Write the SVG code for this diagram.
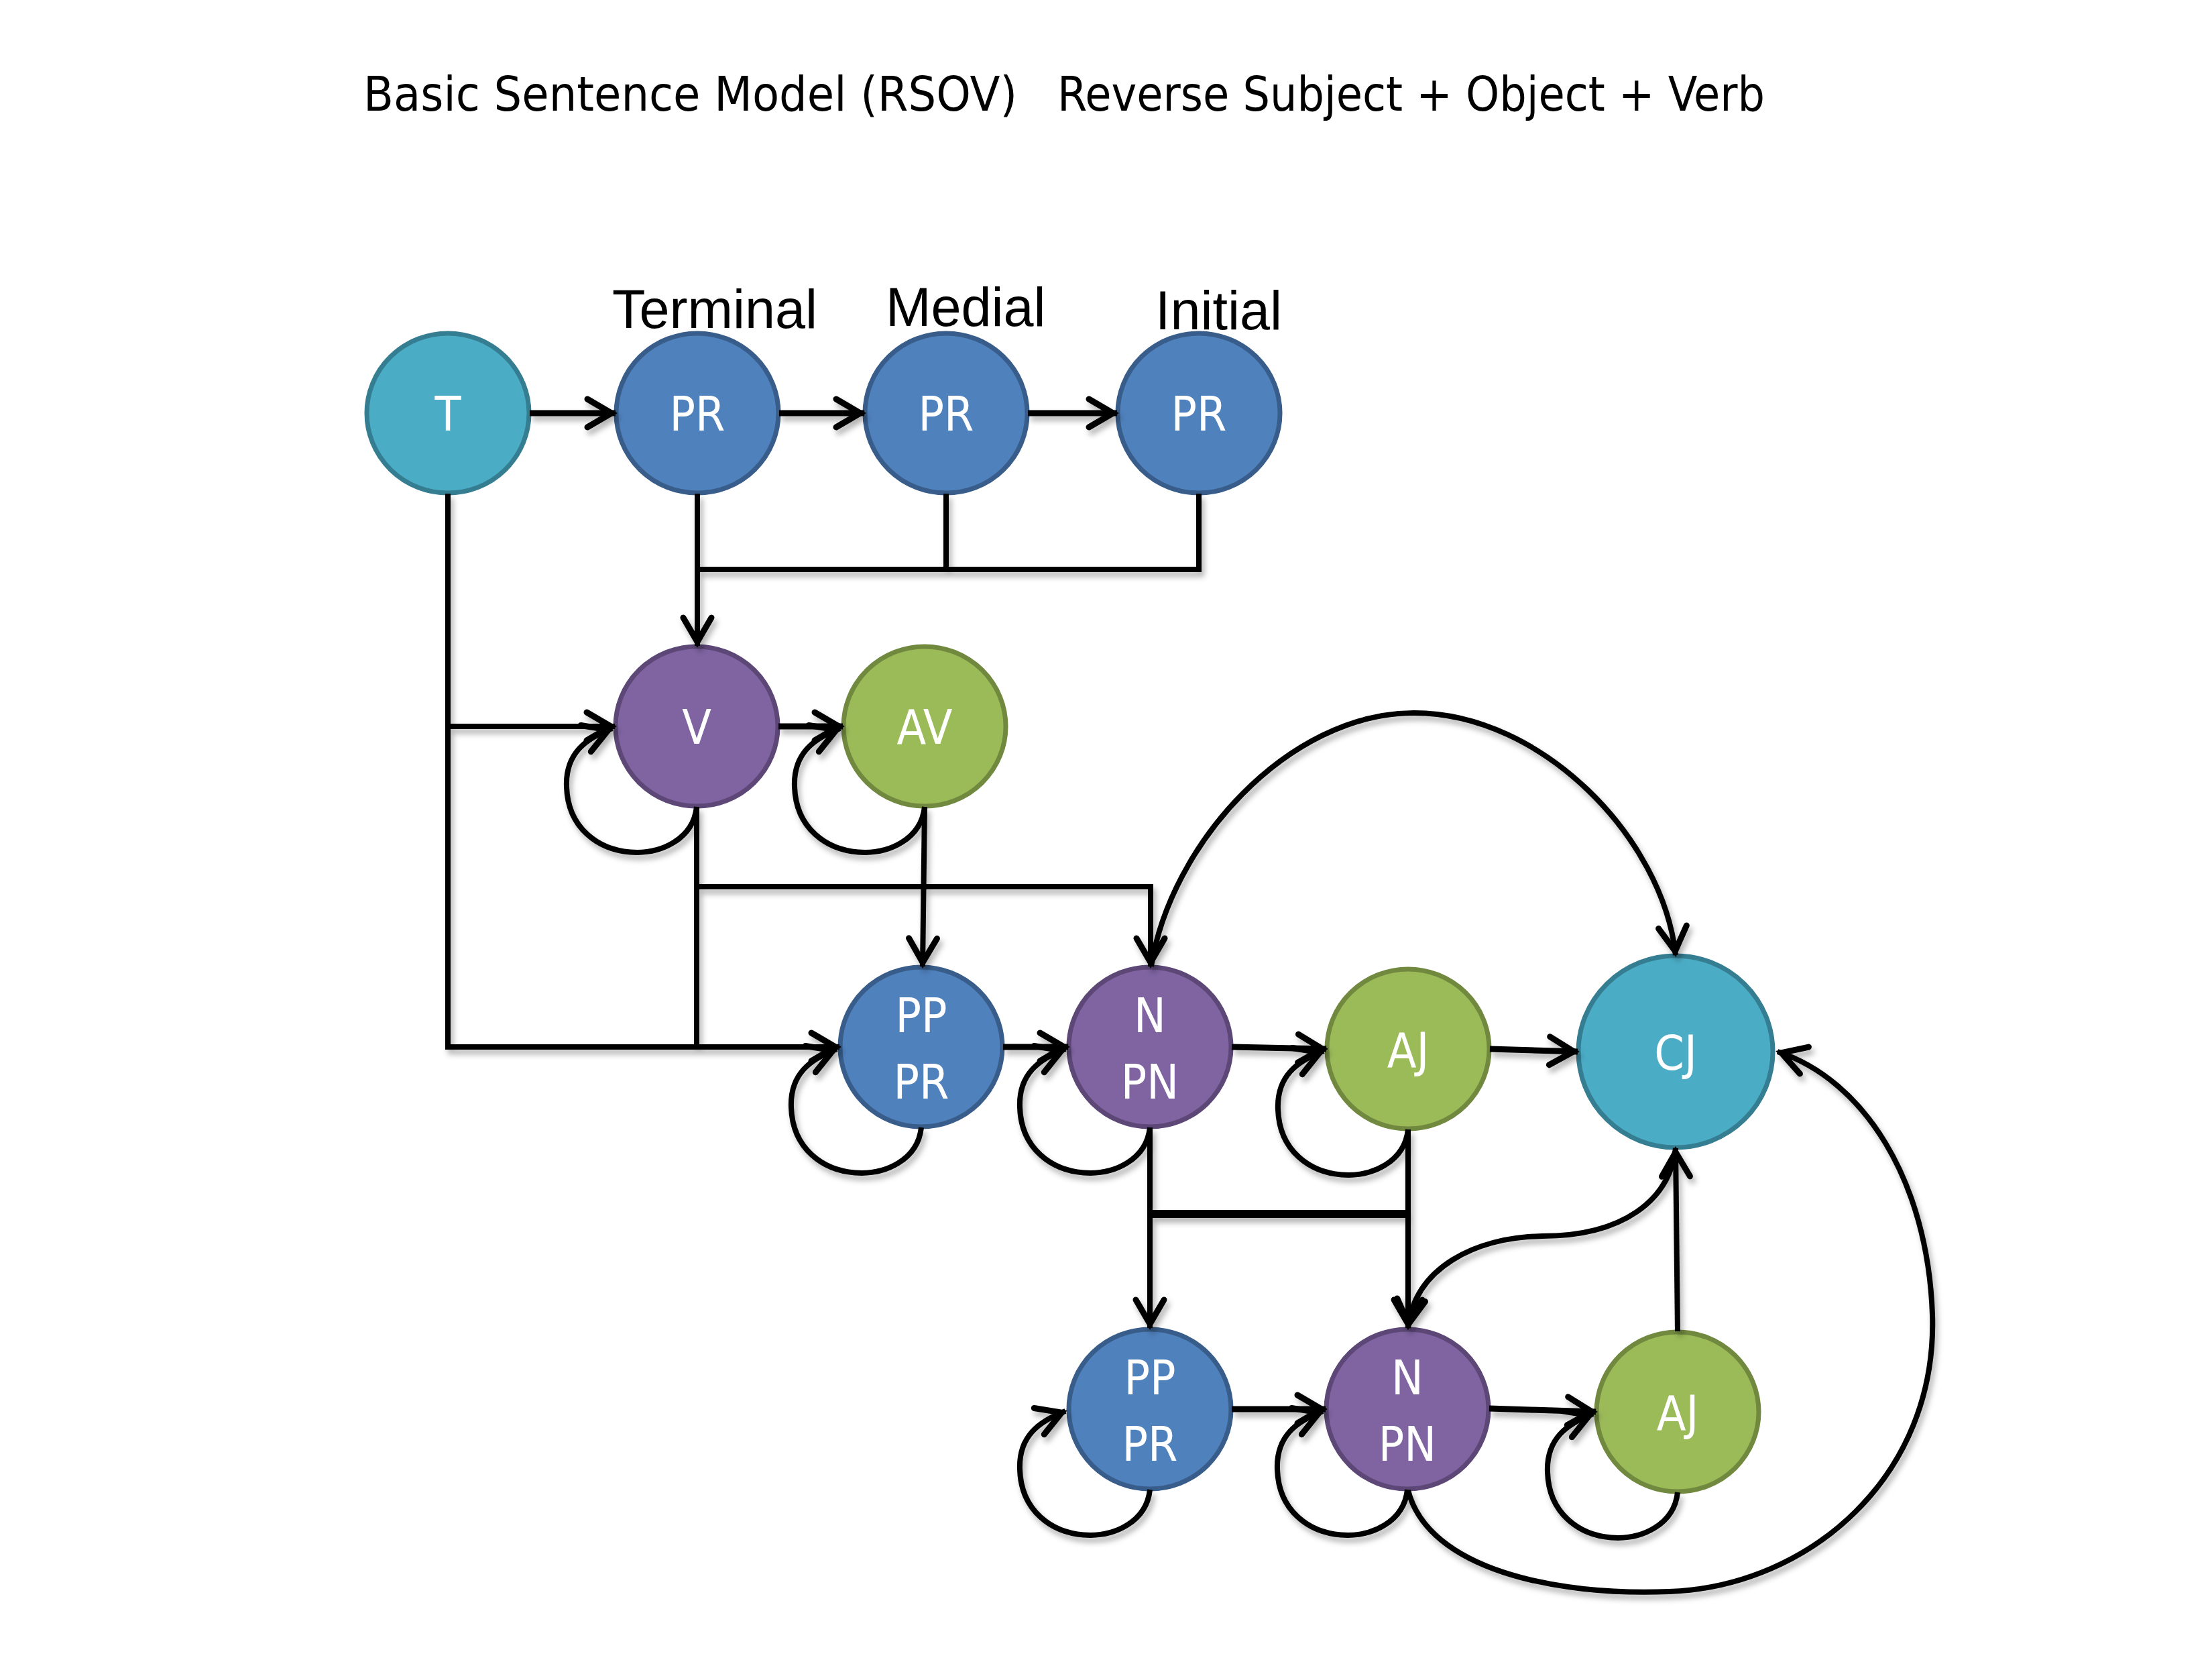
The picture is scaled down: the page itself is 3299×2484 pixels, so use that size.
<svg xmlns="http://www.w3.org/2000/svg" width="3299" height="2484" viewBox="0 0 3299 2484">
<style>
.title{font-family:"DejaVu Sans Condensed","DejaVu Sans","Liberation Sans",sans-serif;font-stretch:condensed;font-size:71px;fill:#000}
.lab{font-family:"Liberation Sans",Arial,sans-serif;font-size:81px;fill:#000}
.nt{font-family:"DejaVu Sans Condensed","DejaVu Sans","Liberation Sans",sans-serif;font-stretch:condensed;font-size:71px;fill:#fff;text-anchor:middle}
.teal{fill:#4BACC6;stroke:#357D91;stroke-width:7}
.blue{fill:#4F81BD;stroke:#385D8A;stroke-width:7}
.purple{fill:#8064A2;stroke:#5C4776;stroke-width:7}
.green{fill:#9BBB59;stroke:#71893F;stroke-width:7}
.c{fill:none;stroke:#000;stroke-width:8;stroke-linejoin:miter}
.h{stroke-width:9}
.a{marker-end:url(#arr)}
</style>
<defs>
<marker id="arr" viewBox="-50 -30 60 60" refX="0" refY="0" markerWidth="60" markerHeight="60" markerUnits="userSpaceOnUse" orient="auto" overflow="visible">
<path d="M-42,-21 L-6,0 L-42,21" fill="none" stroke="#000" stroke-width="9" stroke-linecap="round"/>
</marker>
<filter id="sh" x="-10%" y="-10%" width="120%" height="120%">
<feDropShadow dx="4" dy="7" stdDeviation="4" flood-color="#000" flood-opacity="0.3"/>
</filter>
</defs>
<rect width="3299" height="2484" fill="#fff"/>
<text class="title" x="542" y="165" textLength="975" lengthAdjust="spacingAndGlyphs">Basic Sentence Model (RSOV)</text>
<text class="title" x="1577" y="165" textLength="1055" lengthAdjust="spacingAndGlyphs">Reverse Subject + Object + Verb</text>
<text class="lab" x="913" y="489">Terminal</text>
<text class="lab" x="1321" y="486">Medial</text>
<text class="lab" x="1723" y="491">Initial</text>

<g id="n-T"><ellipse class="teal" cx="668" cy="616" rx="121" ry="119"/><text class="nt" x="668" y="642">T</text></g>
<g id="n-PR-terminal"><ellipse class="blue" cx="1040" cy="616" rx="121" ry="119"/><text class="nt" x="1040" y="642">PR</text></g>
<g id="n-PR-medial"><ellipse class="blue" cx="1411" cy="616" rx="121" ry="119"/><text class="nt" x="1411" y="642">PR</text></g>
<g id="n-PR-initial"><ellipse class="blue" cx="1788" cy="616" rx="121" ry="119"/><text class="nt" x="1788" y="642">PR</text></g>
<g id="n-V"><ellipse class="purple" cx="1039" cy="1083" rx="121" ry="119"/><text class="nt" x="1039" y="1109">V</text></g>
<g id="n-AV"><ellipse class="green" cx="1379" cy="1083" rx="121" ry="119"/><text class="nt" x="1379" y="1109">AV</text></g>
<g id="n-PP1"><ellipse class="blue" cx="1374" cy="1561" rx="121" ry="119"/><text class="nt" x="1374" y="1539">PP</text><text class="nt" x="1374" y="1638">PR</text></g>
<g id="n-N1"><ellipse class="purple" cx="1715" cy="1561" rx="121" ry="119"/><text class="nt" x="1715" y="1539">N</text><text class="nt" x="1715" y="1638">PN</text></g>
<g id="n-AJ1"><ellipse class="green" cx="2100" cy="1564" rx="121" ry="119"/><text class="nt" x="2100" y="1591">AJ</text></g>
<g id="n-CJ"><ellipse class="teal" cx="2499" cy="1568" rx="145" ry="143"/><text class="nt" x="2499" y="1595">CJ</text></g>
<g id="n-PP2"><ellipse class="blue" cx="1715" cy="2101" rx="121" ry="119"/><text class="nt" x="1715" y="2079">PP</text><text class="nt" x="1715" y="2178">PR</text></g>
<g id="n-N2"><ellipse class="purple" cx="2099" cy="2101" rx="121" ry="119"/><text class="nt" x="2099" y="2079">N</text><text class="nt" x="2099" y="2178">PN</text></g>
<g id="n-AJ2"><ellipse class="green" cx="2502" cy="2105" rx="121" ry="119"/><text class="nt" x="2502" y="2132">AJ</text></g>

<g id="connectors" filter="url(#sh)">
<path class="c h a" d="M790,616 H918"/>
<path class="c h a" d="M1162,616 H1289"/>
<path class="c h a" d="M1533,616 H1666"/>
<path class="c" d="M1411,736 V849"/>
<path class="c" d="M1788,736 V849 H1040"/>
<path class="c a" d="M1040,736 V963"/>
<path class="c a" d="M668,736 V1561 H1252"/>
<path class="c a" d="M668,1083 H917"/>
<path class="c h a" d="M1161,1083 H1257"/>
<path class="c" d="M1039,1203 V1561"/>
<path class="c a" d="M1039,1322 H1716 V1441"/>
<path class="c a" d="M1379,1203 L1376,1441"/>
<path class="c h a" d="M1496,1561 H1593"/>
<path class="c h a" d="M1837,1561 L1978,1564"/>
<path class="c h a" d="M2222,1564 L2353,1568"/>
<path class="c a" d="M1717,1441 C1745,1260 1920,1063 2109,1063 C2300,1063 2480,1250 2499,1424"/>
<path class="c a" d="M1715,1681 V1980"/>
<path class="c a" d="M2100,1684 V1980"/>
<path class="c" style="stroke-width:12" d="M1715,1810 H2100"/>
<path class="c h a" d="M1837,2101 H1977"/>
<path class="c h a" d="M2221,2100 L2380,2105"/>
<path class="c a" d="M2502,1985 L2499,1712"/>
<path class="c a" d="M2499,1712 C2490,1790 2420,1843 2300,1843 C2200,1845 2110,1890 2100,1980"/>
<path class="c a" d="M2100,2222 C2130,2340 2320,2380 2490,2373 C2700,2365 2890,2200 2882,1960 C2875,1760 2780,1610 2651,1568"/>
<path class="c a" d="M1039,1203 C1029,1298 849,1298 845,1173 C843,1123 874,1101 913,1086"/>
<path class="c a" d="M1379,1203 C1369,1298 1189,1298 1185,1173 C1183,1123 1214,1101 1253,1086"/>
<path class="c a" d="M1374,1681 C1364,1776 1184,1776 1180,1651 C1178,1601 1209,1579 1248,1564"/>
<path class="c a" d="M1715,1681 C1705,1776 1525,1776 1521,1651 C1519,1601 1550,1579 1589,1564"/>
<path class="c a" d="M2100,1684 C2090,1779 1910,1779 1906,1654 C1904,1604 1935,1582 1974,1567"/>
<path class="c a" d="M1715,2221 C1705,2316 1525,2316 1521,2191 C1519,2141 1550,2119 1589,2104"/>
<path class="c a" d="M2099,2221 C2089,2316 1909,2316 1905,2191 C1903,2141 1934,2119 1973,2104"/>
<path class="c a" d="M2502,2225 C2492,2320 2312,2320 2308,2195 C2306,2145 2337,2123 2376,2108"/>
</g>
</svg>
